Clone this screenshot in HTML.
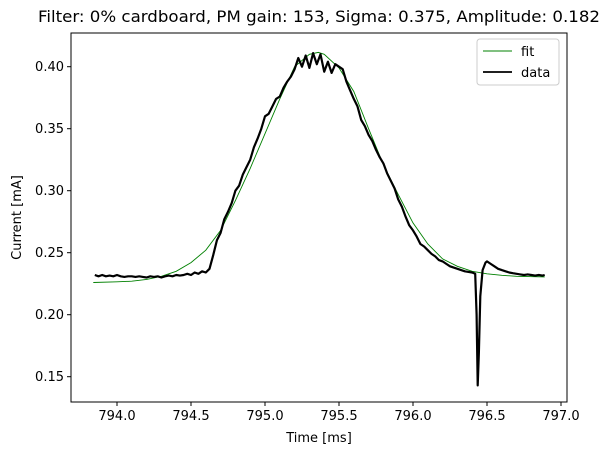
<!DOCTYPE html>
<html><head><meta charset="utf-8"><style>
html,body{margin:0;padding:0;background:#fff}
svg text{font-family:"DejaVu Sans","Liberation Sans",sans-serif;fill:#000}
</style></head><body>
<svg id="chart" width="609" height="455" xmlns="http://www.w3.org/2000/svg">
<rect width="609" height="455" fill="#fff"/>
<text x="319" y="22" font-size="16" text-anchor="middle" textLength="562" lengthAdjust="spacingAndGlyphs">Filter: 0% cardboard, PM gain: 153, Sigma: 0.375, Amplitude: 0.182</text>
<g id="plot"></g>
</svg>
<script>
const xTicks=[794.0,794.5,795.0,795.5,796.0,796.5,797.0];
const xTickLabels=["794.0","794.5","795.0","795.5","796.0","796.5","797.0"];
const yTicks=[0.15,0.20,0.25,0.30,0.35,0.40];
const yTickLabels=["0.15","0.20","0.25","0.30","0.35","0.40"];
const fitT=[793.84,794.0,794.1,794.2,794.3,794.4,794.5,794.6,794.7,794.8,794.9,795.0,795.1,795.2,795.3,795.36,795.4,795.5,795.6,795.7,795.8,795.9,796.0,796.1,796.2,796.3,796.4,796.5,796.6,796.7,796.89];
const fitV=[0.226,0.2265,0.227,0.2285,0.231,0.235,0.242,0.252,0.268,0.292,0.318,0.346,0.374,0.400,0.410,0.4115,0.410,0.399,0.380,0.350,0.321,0.297,0.274,0.257,0.245,0.239,0.235,0.233,0.2318,0.231,0.2305];
const dataT=[793.85,793.875,793.9,793.925,793.95,793.975,794.0,794.025,794.05,794.075,794.1,794.125,794.15,794.175,794.2,794.225,794.25,794.275,794.3,794.325,794.35,794.375,794.4,794.425,794.45,794.475,794.5,794.525,794.55,794.575,794.6,
794.625,794.65,794.675,794.7,794.725,794.75,794.775,794.8,794.825,794.85,794.875,794.9,794.925,794.95,794.975,795.0,795.025,795.05,795.075,795.1,795.125,795.15,795.175,795.2,795.225,795.25,795.275,795.3,795.325,795.35,795.375,795.4,795.425,795.45,795.475,795.5,795.525,795.55,795.575,795.6,795.625,795.65,795.675,795.7,795.725,795.75,795.775,795.8,795.825,795.85,795.875,795.9,795.925,795.95,795.975,796.0,796.025,796.05,796.075,796.1,796.125,796.15,796.175,796.2,796.225,796.25,796.275,796.3,796.325,796.35,796.375,796.4,796.42,796.43,796.437,796.445,796.455,796.47,796.49,796.5,796.525,796.55,796.575,796.6,796.625,796.65,796.675,796.7,796.725,796.75,796.775,796.8,796.825,796.85,796.875,796.89];
const dataV=[0.232,0.231,0.232,0.231,0.2315,0.231,0.232,0.231,0.2305,0.231,0.231,0.2305,0.231,0.2305,0.230,0.231,0.2305,0.231,0.230,0.231,0.2315,0.231,0.232,0.2315,0.232,0.233,0.232,0.234,0.233,0.235,0.234,
0.237,0.248,0.260,0.266,0.277,0.283,0.290,0.300,0.304,0.313,0.319,0.325,0.335,0.342,0.350,0.360,0.362,0.368,0.374,0.376,0.383,0.388,0.392,0.398,0.407,0.400,0.409,0.399,0.411,0.402,0.410,0.396,0.404,0.395,0.402,0.400,0.398,0.388,0.381,0.374,0.368,0.357,0.352,0.345,0.340,0.333,0.327,0.322,0.314,0.308,0.302,0.293,0.287,0.279,0.272,0.268,0.263,0.257,0.255,0.252,0.249,0.247,0.244,0.243,0.241,0.239,0.238,0.237,0.236,0.235,0.2345,0.234,0.233,0.200,0.143,0.170,0.215,0.236,0.242,0.243,0.241,0.239,0.237,0.236,0.235,0.234,0.2335,0.233,0.2325,0.232,0.2325,0.232,0.2315,0.232,0.2315,0.232];

const L=71,R=567,T=33,B=402;
const x=t=>117+(t-794)*148;
const y=v=>376.7-(v-0.15)*1240;
const NS="http://www.w3.org/2000/svg";
const g=document.getElementById('plot');
function mk(tag,attrs,parent){const e=document.createElementNS(NS,tag);for(const k in attrs)e.setAttribute(k,attrs[k]);(parent||g).appendChild(e);return e;}

let d=fitT.map((t,i)=>(i?'L':'M')+x(t).toFixed(1)+','+y(fitV[i]).toFixed(1)).join('');
const fit=mk('path',{d:d,fill:'none',stroke:'#008000','stroke-width':'0.9'});


d=dataT.map((t,i)=>(i?'L':'M')+x(t).toFixed(1)+','+y(dataV[i]).toFixed(1)).join('');
const dl=mk('path',{d:d,fill:'none',stroke:'#000','stroke-width':'2.2','stroke-linejoin':'round'});



const fr=mk('rect',{x:L,y:T,width:R-L,height:B-T,fill:'none',stroke:'#000','stroke-width':'1'});



xTicks.forEach((t,i)=>{
  const tk=mk('line',{x1:x(t),x2:x(t),y1:B,y2:B+4,stroke:'#000'});
  
  
  const tx=mk('text',{x:x(t),y:B+18,'font-size':'13','text-anchor':'middle'});
  tx.textContent=xTickLabels[i];
  
  
});
yTicks.forEach((v,i)=>{
  const tk=mk('line',{x1:L-4,x2:L,y1:y(v),y2:y(v),stroke:'#000'});
  
  
  const tx=mk('text',{x:L-7,y:y(v)+4.5,'font-size':'13','text-anchor':'end'});
  tx.textContent=yTickLabels[i];
  
  
});
const xl=mk('text',{x:(L+R)/2,y:442,'font-size':'13','text-anchor':'middle'});
xl.textContent='Time [ms]';


const yl=mk('text',{x:0,y:0,'font-size':'13','text-anchor':'middle',transform:'translate(21,'+((T+B)/2)+') rotate(-90)'});
yl.textContent='Current [mA]';



const lg=mk('g',{});


mk('rect',{x:477,y:39,width:82,height:46,rx:3,fill:'#fff','fill-opacity':'0.8',stroke:'#ccc','stroke-width':'1'},lg);
const l1=mk('line',{x1:483,x2:512,y1:51,y2:51,stroke:'#008000','stroke-width':'0.9'},lg);


const t1=mk('text',{x:521,y:56,'font-size':'13'},lg);t1.textContent='fit';


const l2=mk('line',{x1:483,x2:512,y1:72,y2:72,stroke:'#000','stroke-width':'1.8'},lg);


const t2=mk('text',{x:521,y:77,'font-size':'13'},lg);t2.textContent='data';


</script>
</body></html>
